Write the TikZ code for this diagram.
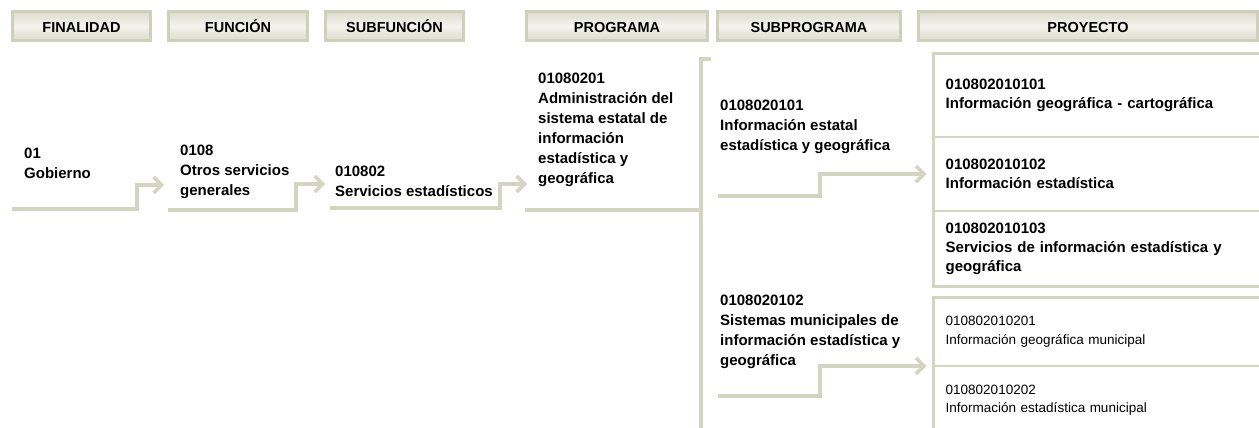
\documentclass[tikz,border=0pt]{standalone}
\usepackage{fontspec}
\setmainfont{Liberation Sans}
\usetikzlibrary{arrows.meta, positioning, calc}
\definecolor{stemcol}{HTML}{D3D4C1}
\definecolor{hdrline}{HTML}{CFD0BC}
\definecolor{hdrlight}{HTML}{F4F4EF}

\begin{document}
\begin{tikzpicture}[
    x=1pt, y=-1pt,
    node distance=15pt,
    hdr/.style={rectangle, draw=hdrline, line width=3pt, top color=hdrline!75,
                bottom color=hdrline!75, middle color=hdrlight,
                minimum height=29pt, inner sep=0pt, text height=13pt, text depth=0pt,
                font=\fontsize{14.5}{16}\selectfont\bfseries},
    lbl/.style={anchor=west, align=left, inner sep=0pt,
                font=\fontsize{15}{20}\selectfont\bfseries},
    cell/.style={anchor=north west, align=left, text width=316pt, inner xsep=12pt,
                 inner ysep=0pt, font=\fontsize{15}{19}\selectfont\bfseries},
    plaincell/.style={cell, font=\fontsize{13.5}{18.5}\selectfont},
    stem/.style={draw=stemcol, line width=3.5pt},
    divider/.style={draw=stemcol, line width=2pt},
    flow/.style={stem, -{Straight Barb[length=8pt, width=16pt]}},
]
\useasboundingbox (0,0) rectangle (1259,428);
\clip (0,0) rectangle (1259,428);

% column headers
\node[hdr, minimum width=138pt] (hfin) at (81.5,26) {FINALIDAD};
\node[hdr, minimum width=139pt, right=15pt of hfin] (hfun) {FUNCIÓN};
\node[hdr, minimum width=138pt, right=15pt of hfun] (hsfun) {SUBFUNCIÓN};
\node[hdr, minimum width=181pt, right=60pt of hsfun] (hprog) {PROGRAMA};
\node[hdr, minimum width=183pt, right=7pt of hprog] (hsubp) {SUBPROGRAMA};
\node[hdr, minimum width=339pt, right=15pt of hsubp] (hproy) {PROYECTO};

% left-hand chain
\node[lbl] (fin) at (24,163) {01\\Gobierno};
\node[lbl] (fun) at (180,172) {0108\\Otros servicios\\generales};
\node[lbl] (sfun) at (335,181) {010802\\Servicios estadísticos};
\node[lbl] (prog) at (538,130) {01080201\\Administración del\\sistema estatal de\\información\\estadística y\\geográfica};
\node[lbl] (subp1) at (720,127) {0108020101\\Información estatal\\estadística y geográfica};
\node[lbl] (subp2) at (720,332) {0108020102\\Sistemas municipales de\\información estadística y\\geográfica};

% projects
\node[cell, minimum height=83pt] (p1) at (933.5,53.5) {010802010101\\Información geográfica - cartográfica};
\node[cell, minimum height=74pt, below=0pt of p1] (p2) {010802010102\\Información estadística};
\node[cell, minimum height=75pt, below=0pt of p2] (p3) {010802010103\\Servicios de información estadística y\\geográfica};
\node[plaincell, minimum height=68pt] (p4) at (933.5,297.5) {010802010201\\Información geográfica municipal};
\node[plaincell, minimum height=68pt, below=0pt of p4] (p5) {010802010202\\Información estadística municipal};

\draw[stem] (p3.south east) -- (p3.south west) -- (p1.north west) -- (p1.north east);
\draw[stem] (p5.south west) -- (p4.north west) -- (p4.north east);
\draw[divider] (p1.south west) -- (p1.south east);
\draw[divider] (p2.south west) -- (p2.south east);
\draw[divider] (p4.south west) -- (p4.south east);

% connectors
\coordinate (fin-out) at (12,209);
\coordinate (fun-in) at (164,185);
\coordinate (fun-out) at (168,210);
\coordinate (sfun-in) at (325,184);
\coordinate (sfun-out) at (330,208);
\coordinate (prog-in) at (527,184);
\coordinate (prog-out) at (525,210);
\coordinate (bar-top) at (701,59);
\coordinate (bar-end) at (701,430);
\coordinate (subp1-out) at (718,196);
\coordinate (subp2-out) at (718,396);

\draw[flow] (fin-out) -- ++(125,0) |- (fun-in);
\draw[flow] (fun-out) -- ++(128,0) |- (sfun-in);
\draw[flow] (sfun-out) -- ++(170,0) |- (prog-in);
\draw[stem] (prog-out) -- (prog-out -| bar-top);
\draw[stem] ([xshift=10pt]bar-top) -- (bar-top) -- (bar-end);
\draw[flow] (subp1-out) -- ++(102,0) |- ([xshift=-7pt]p2.west);
\draw[flow] (subp2-out) -- ++(102,0) |- ([xshift=-7pt]p4.south west);

\end{tikzpicture}
\end{document}
